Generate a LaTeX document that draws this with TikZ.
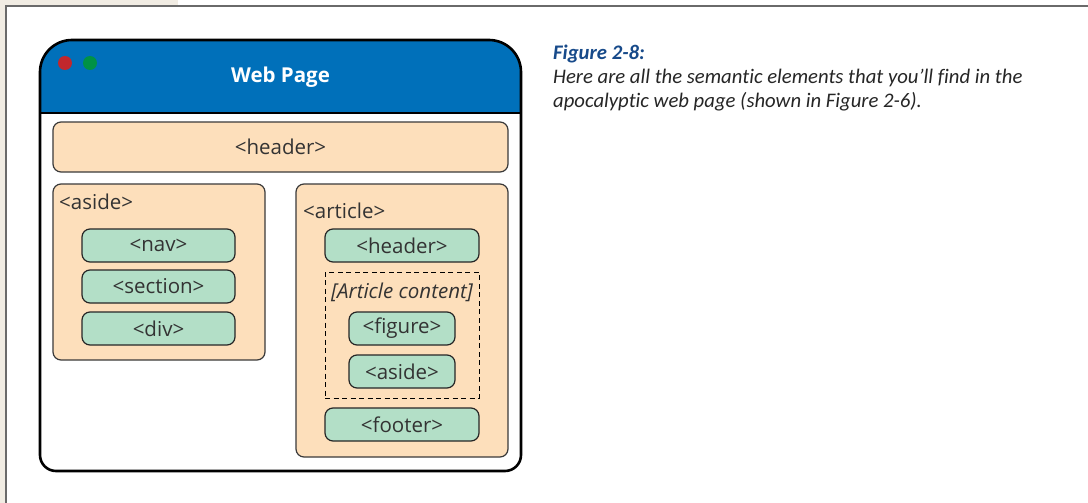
\documentclass[tikz,border=0pt]{standalone}
\usepackage{fontspec}
\setmainfont{Open Sans}
\newfontfamily\capfont[Ligatures={TeX,NoCommon}]{Carlito}
\usetikzlibrary{positioning}
\definecolor{beige}{HTML}{F1ECE3}
\definecolor{framegray}{HTML}{6A6A6A}
\definecolor{barblue}{HTML}{0070BA}
\definecolor{dotred}{HTML}{C1272D}
\definecolor{dotgreen}{HTML}{009245}
\definecolor{peach}{HTML}{FDDFBB}
\definecolor{mint}{HTML}{B3DFC7}
\definecolor{edge}{HTML}{3A3A3A}
\definecolor{txt}{HTML}{333333}
\definecolor{capblue}{HTML}{174A8A}
\tikzset{
  outerbox/.style={draw=edge, line width=1.2pt, fill=peach, rounded corners=8pt, inner sep=0pt},
  tagbox/.style={draw=black!85, line width=1.2pt, fill=mint, rounded corners=8pt, inner sep=0pt, minimum height=33pt, text=txt, font=\fontsize{20.5}{22}\selectfont},
  tagtext/.style={text=txt, font=\fontsize{20.5}{22}\selectfont, inner sep=0pt},
  dot/.style={circle, inner sep=0pt, minimum size=14pt}
}
\begin{document}
\begin{tikzpicture}[x=1pt,y=-1pt]
\useasboundingbox (0,0) rectangle (1088,503);
% page background and frame
\fill[white] (0,0) rectangle (1088,503);
\fill[beige] (0,0) rectangle (178,6);
\fill[beige] (0,0) rectangle (5,503);
\draw[framegray, line width=2pt] (6,503) -- (6,6.5) -- (1088,6.5);
% window
\fill[barblue] (40,113) -- (40,72) arc[start angle=180,end angle=270,radius=32] -- (489,40) arc[start angle=270,end angle=360,radius=32] -- (521,113) -- cycle;
\draw[black, line width=2pt] (40,113) -- (521,113);
\draw[black, line width=2.6pt] (40,455) -- (40,72) arc[start angle=180,end angle=270,radius=32] -- (489,40) arc[start angle=270,end angle=360,radius=32] -- (521,455) arc[start angle=0,end angle=90,radius=16] -- (56,471) arc[start angle=90,end angle=180,radius=16] -- cycle;
\node[dot, fill=dotred] (red) at (65,63) {};
\node[dot, fill=dotgreen] (green) at (90,63) {};
\node[text=white, font=\fontsize{20.5}{22}\selectfont\bfseries] (title) at (280.5,77) {Web Page};
% page header
\node[outerbox, minimum width=455pt, minimum height=50pt, text=txt, font=\fontsize{20.5}{22}\selectfont] (pheader) at (280.5,147) {<header>};
% left aside
\node[outerbox, minimum width=212pt, minimum height=176pt] (laside) at (159,272) {};
\node[tagtext, anchor=base west] (lasidelbl) at (59,209) {<aside>};
\node[tagbox, minimum width=153pt] (nav) at (158.5,245.5) {<nav>};
\node[tagbox, minimum width=153pt] (section) at (158.5,286.5) {<section>};
\node[tagbox, minimum width=153pt] (div) at (158.5,328.5) {<div>};
% article
\node[outerbox, minimum width=212pt, minimum height=273pt] (article) at (402,320.5) {};
\node[tagtext, anchor=base west] (articlelbl) at (303,218) {<article>};
\node[tagbox, minimum width=154pt] (aheader) at (402,245.5) {<header>};
\node[draw=black, dash pattern=on 5pt off 3.5pt, line width=1pt, minimum width=154pt, minimum height=126pt, inner sep=0pt] (content) at (402,335) {};
\node[tagtext, font=\fontsize{20.5}{22}\selectfont\itshape] (contentlbl) at (402,292) {[Article content]};
\node[tagbox, minimum width=106pt] (figure) at (402,328.5) {<figure>};
\node[tagbox, minimum width=106pt] (aaside) at (402,371.5) {<aside>};
\node[tagbox, minimum width=154pt] (footer) at (402,424.5) {<footer>};
% caption
\node[anchor=base west, inner sep=0pt, text=capblue, font=\capfont\fontsize{20.7}{23}\selectfont\bfseries\itshape] (capttl) at (553,60) {Figure 2-8:};
\node[anchor=base west, inner sep=0pt, text=black!85, align=left, font=\capfont\fontsize{20.7}{23}\selectfont\itshape] (captxt) at (553,84) {Here are all the semantic elements that you’ll find in the};
\node[anchor=base west, inner sep=0pt, text=black!85, font=\capfont\fontsize{20.7}{23}\selectfont\itshape] (captxt2) at (553,107) {apocalyptic web page (shown in Figure 2-6).};
\end{tikzpicture}
\end{document}
